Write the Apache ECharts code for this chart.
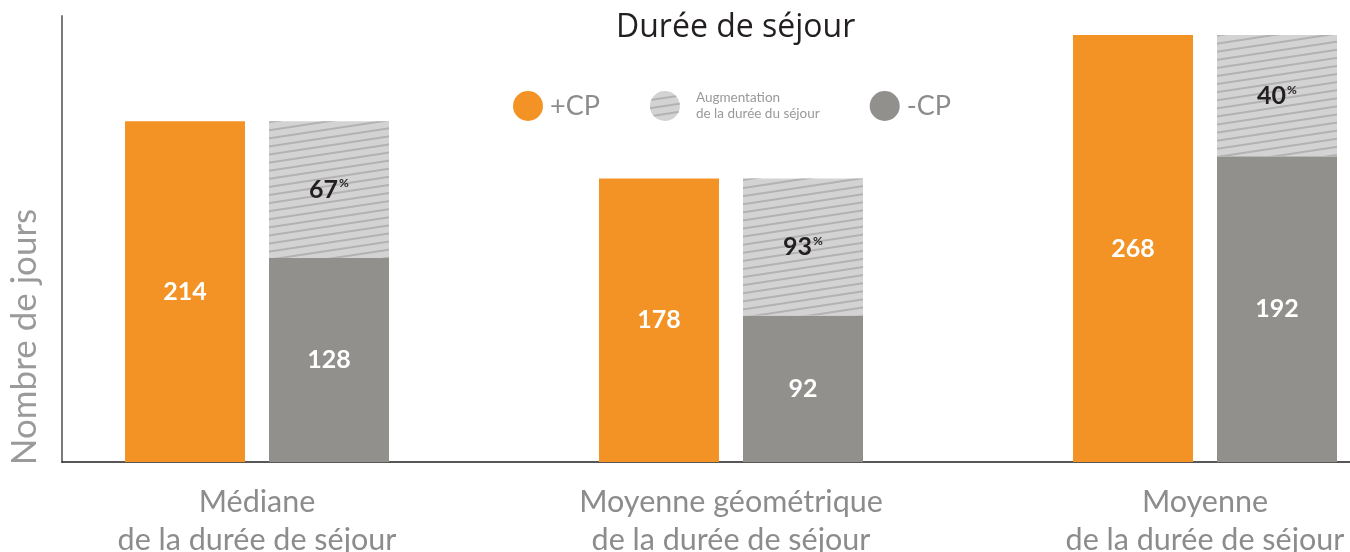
<!DOCTYPE html>
<html><head><meta charset="utf-8">
<script src="https://cdn.jsdelivr.net/npm/echarts@6/dist/echarts.min.js"></script>
<style>html,body{margin:0;padding:0;background:#fff}#c{width:1350px;height:552px}</style>
</head><body><div id="c"></div>
<script>
const categories = ['Médiane\nde la durée de séjour', 'Moyenne géométrique\nde la durée de séjour', 'Moyenne\nde la durée de séjour'];
const plusCP = [214, 178, 268];
const minusCP = [128, 92, 192];
const augmentation = [86, 86, 76];
const augmentationPct = [67, 93, 40];
const seriesNames = ['+CP', 'Augmentation\nde la durée du séjour', '-CP'];

const FONT = 'Lato, "Open Sans", sans-serif';

const chart = echarts.init(document.getElementById('c'), null, {renderer: 'canvas'});
chart.setOption({
  animation: false,
  title: {
    text: 'Durée de séjour', left: 611, top: 7,
    textStyle: {fontFamily: '"Open Sans", sans-serif', fontWeight: 'normal', fontSize: 32, color: '#231f20'}
  },
  legend: {
    data: seriesNames, left: 508, top: 86, icon: 'circle', itemWidth: 30, itemHeight: 30, itemGap: 50,
    formatter: n => n === seriesNames[1] ? '{s|' + n.replace('\n', '}\n{s|') + '}' : '{b|' + n + '}',
    textStyle: {
      fontFamily: FONT, color: '#8c8c8c',
      rich: {
        b: {fontSize: 27, fontFamily: FONT, color: '#8c8c8c', padding: [0, 0, 0, 2]},
        s: {fontSize: 13.5, lineHeight: 16, fontFamily: FONT, color: '#999', padding: [0, 0, 0, 11]}
      }
    }
  },
  grid: [
    {left: 20, width: 1422, top: 16, bottom: 90, outerBoundsMode: 'none', containLabel: false},
    {left: 62, right: 0, top: 16, bottom: 90, outerBoundsMode: 'none', containLabel: false}
  ],
  xAxis: [
    {
      type: 'category', gridIndex: 0, data: categories,
      axisLine: {show: false}, axisTick: {show: false}, splitLine: {show: false},
      axisLabel: {interval: 0, fontFamily: FONT, fontSize: 30.5, color: '#8c8c8c', lineHeight: 38, margin: 21}
    },
    {
      type: 'value', gridIndex: 1, min: 0, max: 1,
      axisLine: {show: true, onZero: false, lineStyle: {color: '#231f20', width: 1.5}},
      axisTick: {show: false}, axisLabel: {show: false}, splitLine: {show: false}
    }
  ],
  yAxis: [
    {
      type: 'value', gridIndex: 0, min: 0, max: 280,
      axisLine: {show: false}, axisTick: {show: false}, axisLabel: {show: false}, splitLine: {show: false}
    },
    {
      type: 'value', gridIndex: 1, min: 0, max: 280,
      axisLine: {show: true, onZero: false, lineStyle: {color: '#7a7a7a', width: 2}},
      axisTick: {show: false}, axisLabel: {show: false}, splitLine: {show: false}
    }
  ],
  graphic: [{
    type: 'text', x: 25, y: 337, rotation: Math.PI / 2,
    style: {text: 'Nombre de jours', font: '35px ' + FONT, fill: '#9a9a9a', align: 'center', verticalAlign: 'middle'}
  }],
  series: [
    {
      name: seriesNames[0], type: 'bar', data: plusCP, barWidth: 120, barGap: '20%',
      xAxisIndex: 0, yAxisIndex: 0,
      itemStyle: {color: '#f39325'},
      label: {show: true, position: 'inside', color: '#fff', fontFamily: FONT, fontWeight: 'bold', fontSize: 25}
    },
    {
      name: seriesNames[2], type: 'bar', stack: 'b', data: minusCP, barWidth: 120,
      xAxisIndex: 0, yAxisIndex: 0,
      itemStyle: {color: '#92908d'},
      label: {show: true, position: 'inside', color: '#fff', fontFamily: FONT, fontWeight: 'bold', fontSize: 25}
    },
    {
      name: seriesNames[1], type: 'bar', stack: 'b', data: augmentation, barWidth: 120,
      xAxisIndex: 0, yAxisIndex: 0,
      itemStyle: {
        color: '#d3d3d3',
        decal: {symbol: 'rect', dashArrayX: [1, 0], dashArrayY: [1.5, 5.5], rotation: -0.15, color: '#b2b2b2', symbolSize: 1}
      },
      label: {
        show: true, position: 'inside',
        formatter: p => '{n|' + augmentationPct[p.dataIndex] + '}{p|%}',
        rich: {
          n: {fontFamily: FONT, fontWeight: 'bold', fontSize: 25, color: '#231f20'},
          p: {fontFamily: FONT, fontWeight: 'bold', fontSize: 12, color: '#231f20', padding: [0, 0, 12, 1]}
        }
      }
    }
  ]
});
</script></body></html>
